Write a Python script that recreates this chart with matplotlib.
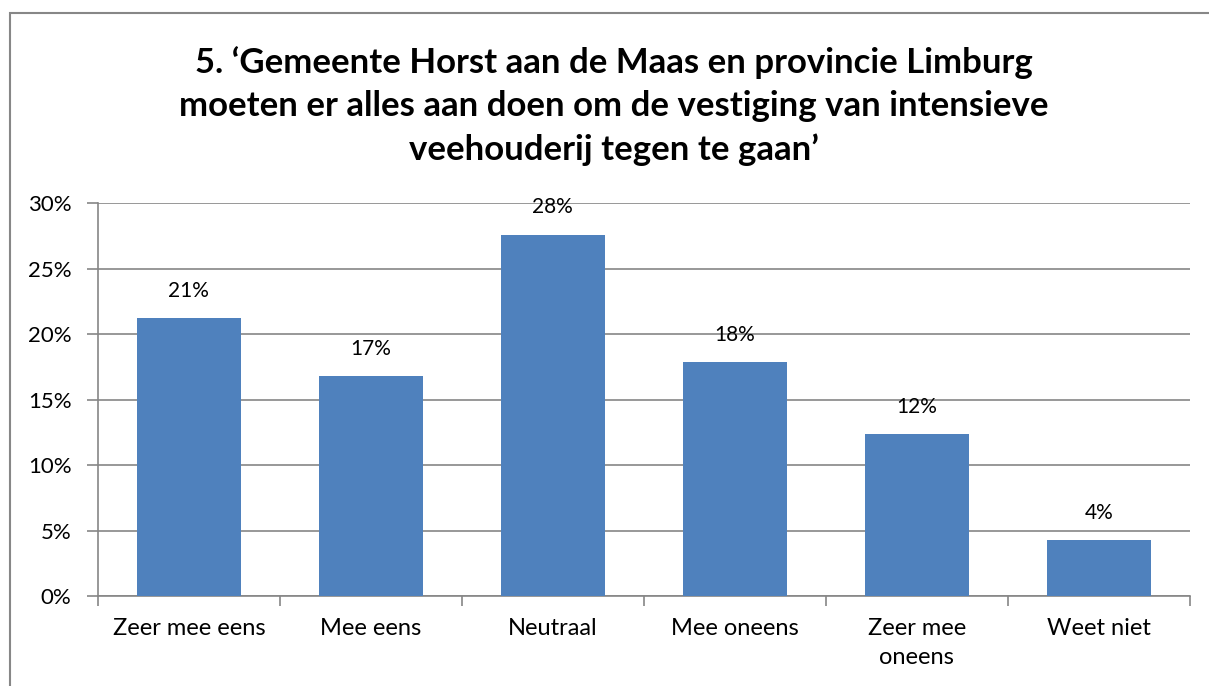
import numpy as np
import matplotlib.pyplot as plt
from matplotlib.patches import Rectangle
from matplotlib.ticker import FixedLocator, PercentFormatter

plt.rcParams['font.family'] = ['Lato', 'DejaVu Sans']

categories = ['Zeer mee eens', 'Mee eens', 'Neutraal', 'Mee oneens', 'Zeer mee\noneens', 'Weet niet']
values = [21.2, 16.8, 27.6, 17.9, 12.4, 4.3]
labels = ['21%', '17%', '28%', '18%', '12%', '4%']
title = ('5. \u2018Gemeente Horst aan de Maas en provincie Limburg\n'
         'moeten er alles aan doen om de vestiging van intensieve\n'
         'veehouderij tegen te gaan\u2019')

fig = plt.figure(figsize=(12.09, 6.86), dpi=100)
ax = fig.add_axes([0.081, 0.131, 0.903, 0.573])

x = np.arange(len(categories))
bars = ax.bar(x, values, width=0.57, color='#4F81BD', zorder=3)
for b, lab in zip(bars, labels):
    ax.text(b.get_x() + b.get_width() / 2, b.get_height() + 1.3, lab,
            ha='center', va='bottom', fontsize=15)

ax.set_xlim(-0.5, len(categories) - 0.5)
ax.set_ylim(0, 30)
ax.set_yticks(np.arange(0, 31, 5))
ax.yaxis.set_major_formatter(PercentFormatter(decimals=0))
ax.set_xticks(x)
ax.set_xticklabels(categories, fontsize=17, linespacing=1.45)
ax.xaxis.set_minor_locator(FixedLocator(np.arange(-0.5, len(categories), 1)))
ax.tick_params(axis='x', which='major', length=0, pad=16)
ax.tick_params(axis='x', which='minor', length=7, width=1.2, color='#868686')
ax.tick_params(axis='y', length=8, width=1.2, color='#868686', labelsize=16, pad=11)
ax.grid(axis='y', color='#868686', linewidth=1.2, zorder=0)
for s in ['top', 'right']:
    ax.spines[s].set_visible(False)
for s in ['left', 'bottom']:
    ax.spines[s].set_color('#868686')
    ax.spines[s].set_linewidth(1.2)

fig.text(0.508, 0.845, title, ha='center', va='center', fontsize=25,
         fontweight='bold', linespacing=1.42)

fig.patches.append(Rectangle((10 / 1209, -0.05), 1.1, 1 - 13 / 686 + 0.05,
                             transform=fig.transFigure, fill=False,
                             edgecolor='#878787', linewidth=1.5))

fig.savefig('out.png', dpi=100)
